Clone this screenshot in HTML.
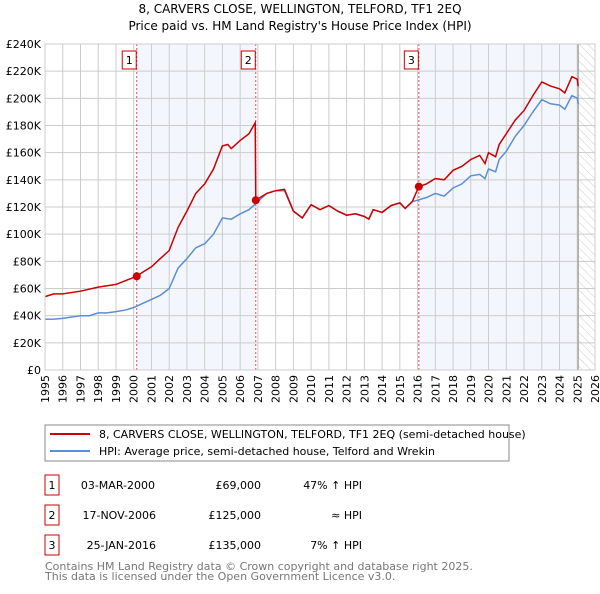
<!DOCTYPE html>
<html><head><meta charset="utf-8"><style>
body{margin:0;background:#fff;font-family:"DejaVu Sans","Liberation Sans",sans-serif}
svg text{font-family:"DejaVu Sans","Liberation Sans",sans-serif}
</style></head><body>
<svg id="chart" width="600" height="590" viewBox="0 0 600 590" xmlns="http://www.w3.org/2000/svg">
<defs><pattern id="hatch" width="6" height="6" patternUnits="userSpaceOnUse" patternTransform="rotate(-45)"><line x1="0" y1="0" x2="0" y2="6" stroke="#ccc" stroke-width="1"/></pattern></defs>
<text x="300" y="13" text-anchor="middle" font-size="12">8, CARVERS CLOSE, WELLINGTON, TELFORD, TF1 2EQ</text>
<text x="300" y="30" text-anchor="middle" font-size="12">Price paid vs. HM Land Registry's House Price Index (HPI)</text>
<g id="plot"></g>
<rect x="45" y="425" width="464" height="36" fill="#fff" stroke="#888"/>
<line x1="50" y1="434" x2="90" y2="434" stroke="#cc0000" stroke-width="2"/>
<text x="99" y="438" font-size="11">8, CARVERS CLOSE, WELLINGTON, TELFORD, TF1 2EQ (semi-detached house)</text>
<line x1="50" y1="451" x2="90" y2="451" stroke="#5b8fd4" stroke-width="2"/>
<text x="99" y="455" font-size="11">HPI: Average price, semi-detached house, Telford and Wrekin</text>
<g font-size="11">
<rect x="45" y="475" width="14" height="20" fill="#fff" stroke="#cc0000"/><text x="52" y="489" text-anchor="middle">1</text>
<text x="155" y="489" text-anchor="end">03-MAR-2000</text><text x="261" y="489" text-anchor="end">£69,000</text><text x="362" y="489" text-anchor="end">47% ↑ HPI</text>
<rect x="45" y="505" width="14" height="20" fill="#fff" stroke="#cc0000"/><text x="52" y="519" text-anchor="middle">2</text>
<text x="156" y="519" text-anchor="end">17-NOV-2006</text><text x="261" y="519" text-anchor="end">£125,000</text><text x="362" y="519" text-anchor="end">≈ HPI</text>
<rect x="45" y="535" width="14" height="20" fill="#fff" stroke="#cc0000"/><text x="52" y="549" text-anchor="middle">3</text>
<text x="156" y="549" text-anchor="end">25-JAN-2016</text><text x="261" y="549" text-anchor="end">£135,000</text><text x="362" y="549" text-anchor="end">7% ↑ HPI</text>
</g>
<text x="45" y="570" font-size="11" fill="#777">Contains HM Land Registry data © Crown copyright and database right 2025.</text>
<text x="45" y="580" font-size="11" fill="#777">This data is licensed under the Open Government Licence v3.0.</text>
</svg>
<script>
const hpiYears=[1995,1995.5,1996,1996.5,1997,1997.5,1998,1998.5,1999,1999.5,2000,2000.5,2001,2001.5,2002,2002.5,2003,2003.5,2004,2004.5,2005,2005.5,2006,2006.5,2007,2007.5,2008,2008.5,2009,2009.5,2010,2010.5,2011,2011.5,2012,2012.5,2013,2013.25,2013.5,2014,2014.5,2015,2015.3,2015.7,2016,2016.5,2017,2017.5,2018,2018.5,2019,2019.5,2019.8,2020,2020.4,2020.6,2021,2021.5,2022,2022.5,2023,2023.5,2024,2024.3,2024.7,2025,2025.05];
const hpiValues=[37.4,37.5,38,39,40,40,42,42,43,44,46,49,52,55,60,75,82,90,93,100,112,111,115,118,124,130,132,132,117,112,121.7,118,121,117,114,115,113,111,118,116,121,123,119,124,125,127,130,128,134,137,143,144,141,148,146,155,161,172,180,190,199,196,195,192,202,200,196];
const priceYears=[1995,1995.5,1996,1997,1998,1999,2000.17,2000.5,2001,2001.5,2002,2002.5,2003,2003.5,2004,2004.5,2005,2005.3,2005.5,2006,2006.5,2006.85,2006.88,2007.5,2008,2008.5,2009,2009.5,2010,2010.5,2011,2011.5,2012,2012.5,2013,2013.25,2013.5,2014,2014.5,2015,2015.3,2015.7,2016.07,2016.5,2017,2017.5,2018,2018.5,2019,2019.5,2019.8,2020,2020.4,2020.6,2021,2021.5,2022,2022.5,2023,2023.5,2024,2024.3,2024.7,2025,2025.05];
const priceValues=[54,56,56,58,61,63,69,72,76,82,88,105,117,130,137,148,165,166,163,169,174,182,125,130,132,133,117,112,121.7,118,121,117,114,115,113,111,118,116,121,123,119,124,135,137,141,140,147,150,155,158,152,160,157,166,174,184,191,202,212,209,207,204,216,214,209];
const yTicks=[0,20,40,60,80,100,120,140,160,180,200,220,240];
const xTicks=[1995,1996,1997,1998,1999,2000,2001,2002,2003,2004,2005,2006,2007,2008,2009,2010,2011,2012,2013,2014,2015,2016,2017,2018,2019,2020,2021,2022,2023,2024,2025,2026];
const saleYears=[2000.17,2006.88,2016.07];
const saleValues=[69,125,135];
const saleLabels=["1","2","3"];
const X0=45,X1=595,Y0=370,Y1=44;
const sx=y=>X0+(y-1995)*(X1-X0)/31;
const sy=v=>Y0-v*(Y0-Y1)/240;
const NS="http://www.w3.org/2000/svg";
const g=document.getElementById('plot');
function mk(t,a){const e=document.createElementNS(NS,t);for(const k in a)e.setAttribute(k,a[k]);g.appendChild(e);return e;}
let r;
r=mk('rect',{x:sx(saleYears[0]),y:Y1,width:sx(saleYears[1])-sx(saleYears[0]),height:Y0-Y1,fill:'#f3f6fd'});


r=mk('rect',{x:sx(saleYears[2]),y:Y1,width:sx(2025.05)-sx(saleYears[2]),height:Y0-Y1,fill:'#f3f6fd'});


r=mk('rect',{x:sx(2025.05),y:Y1,width:X1-sx(2025.05),height:Y0-Y1,fill:'url(#hatch)'});


yTicks.forEach(v=>{
 const l=mk('line',{x1:X0,x2:X1,y1:sy(v),y2:sy(v),stroke:'#ccc','stroke-width':1});
 
 
 const t=mk('text',{x:X0-4,y:sy(v)+4,'text-anchor':'end','font-size':11});
 
 
 t.textContent=v===0?'£0':'£'+v+'K';
});
xTicks.forEach(v=>{
 const l=mk('line',{x1:sx(v),x2:sx(v),y1:Y1,y2:Y0,stroke:'#ccc','stroke-width':1});
 
 
 const t=mk('text',{x:0,y:0,'text-anchor':'end','font-size':11,transform:`translate(${sx(v)+4},${Y0+5}) rotate(-90)`});
 
 
 t.textContent=v;
});
r=mk('line',{x1:sx(2025.05),x2:sx(2025.05),y1:Y1,y2:Y0,stroke:'#999','stroke-width':1.2});


saleYears.forEach((y,i)=>{
 const l=mk('line',{x1:sx(y),x2:sx(y),y1:Y1,y2:Y0,stroke:'#e05050','stroke-width':1,'stroke-dasharray':'2,2'});
 
 
});
const pts=(xs,vs)=>xs.map((x,i)=>sx(x).toFixed(1)+','+sy(vs[i]).toFixed(1)).join(' ');
r=mk('polyline',{points:pts(hpiYears,hpiValues),fill:'none',stroke:'#5b8fd4','stroke-width':1.5});


r=mk('polyline',{points:pts(priceYears,priceValues),fill:'none',stroke:'#cc0000','stroke-width':1.5});


saleYears.forEach((y,i)=>{
 const c=mk('circle',{cx:sx(y),cy:sy(saleValues[i]),r:4,fill:'#cc0000'});
 
 
 const b=mk('rect',{x:sx(y)-14.5,y:51,width:14,height:18,fill:'#fff',stroke:'#cc0000'});
 
 
 const t=mk('text',{x:sx(y)-7.5,y:64,'text-anchor':'middle','font-size':11});
 
 
 t.textContent=saleLabels[i];
});
r=mk('rect',{x:X0,y:Y1,width:X1-X0,height:Y0-Y1,fill:'none',stroke:'#ccc'});


</script>
</body></html>
